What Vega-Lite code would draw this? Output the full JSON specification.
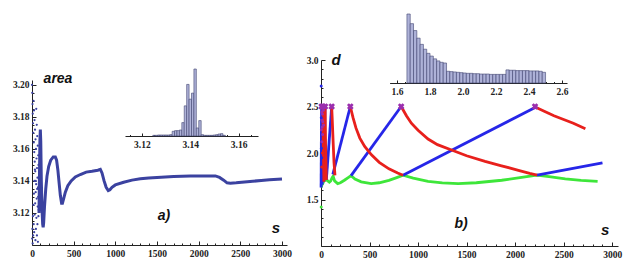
{
  "$schema": "https://vega.github.io/schema/vega-lite/v6.json",
  "width": 631,
  "height": 277,
  "autosize": "none",
  "padding": 0,
  "background": "white",
  "config": {
    "view": {"stroke": null},
    "axis": {"grid": false, "title": null, "domainColor": "#222", "tickColor": "#222", "labelFont": "Liberation Serif", "labelFontWeight": "bold", "labelFontSize": 9.5, "labelColor": "#222", "labelOverlap": false, "labelBound": false, "labelFlush": false, "domainWidth": 1, "tickWidth": 1}
  },
  "datasets": {
    "areaDots": [
      {"s":0,"a":3.200},{"s":2,"a":3.104},{"s":3,"a":3.195},{"s":5,"a":3.110},{"s":6,"a":3.188},{"s":8,"a":3.101},{"s":9,"a":3.182},{"s":11,"a":3.118},{"s":12,"a":3.176},{"s":14,"a":3.106},{"s":15,"a":3.170},{"s":17,"a":3.125},{"s":18,"a":3.190},{"s":20,"a":3.113},{"s":21,"a":3.164},{"s":23,"a":3.132},{"s":24,"a":3.184},{"s":26,"a":3.108},{"s":27,"a":3.158},{"s":29,"a":3.140},{"s":30,"a":3.178},{"s":32,"a":3.119},{"s":33,"a":3.152},{"s":35,"a":3.147},{"s":36,"a":3.172},{"s":38,"a":3.126},{"s":39,"a":3.146},{"s":41,"a":3.103},{"s":42,"a":3.166},{"s":44,"a":3.133},{"s":45,"a":3.140},{"s":47,"a":3.110},{"s":48,"a":3.160},{"s":50,"a":3.138},{"s":51,"a":3.185},{"s":53,"a":3.117},{"s":54,"a":3.154},{"s":56,"a":3.129},{"s":57,"a":3.175},{"s":59,"a":3.106},{"s":60,"a":3.148},{"s":62,"a":3.135},{"s":63,"a":3.168},{"s":65,"a":3.113},{"s":66,"a":3.142},{"s":68,"a":3.124},{"s":69,"a":3.162},{"s":71,"a":3.102},{"s":72,"a":3.136},{"s":74,"a":3.130},{"s":75,"a":3.156},{"s":77,"a":3.118},{"s":78,"a":3.150},{"s":80,"a":3.122}
    ],
    "areaLine": [
      {"s":84,"a":3.120},{"s":90,"a":3.145},{"s":95,"a":3.165},{"s":100,"a":3.172},{"s":105,"a":3.165},{"s":112,"a":3.140},{"s":120,"a":3.122},{"s":128,"a":3.113},{"s":134,"a":3.111},{"s":140,"a":3.114},{"s":150,"a":3.124},{"s":165,"a":3.135},{"s":180,"a":3.143},{"s":200,"a":3.149},{"s":225,"a":3.153},{"s":255,"a":3.155},{"s":280,"a":3.155},{"s":295,"a":3.153},{"s":310,"a":3.147},{"s":325,"a":3.139},{"s":340,"a":3.131},{"s":355,"a":3.126},{"s":365,"a":3.126},{"s":380,"a":3.129},{"s":400,"a":3.133},{"s":430,"a":3.137},{"s":470,"a":3.140},{"s":520,"a":3.1425},{"s":580,"a":3.144},{"s":650,"a":3.1455},{"s":720,"a":3.146},{"s":790,"a":3.1467},{"s":820,"a":3.1472},{"s":840,"a":3.145},{"s":865,"a":3.140},{"s":890,"a":3.136},{"s":915,"a":3.134},{"s":935,"a":3.1345},{"s":960,"a":3.136},{"s":1000,"a":3.1375},{"s":1100,"a":3.1392},{"s":1200,"a":3.1405},{"s":1300,"a":3.1413},{"s":1400,"a":3.1418},{"s":1500,"a":3.1422},{"s":1600,"a":3.1425},{"s":1700,"a":3.1427},{"s":1800,"a":3.1429},{"s":1900,"a":3.1430},{"s":2000,"a":3.1431},{"s":2100,"a":3.1431},{"s":2200,"a":3.1431},{"s":2250,"a":3.1422},{"s":2300,"a":3.1405},{"s":2340,"a":3.1388},{"s":2380,"a":3.1386},{"s":2450,"a":3.1388},{"s":2550,"a":3.1393},{"s":2650,"a":3.1398},{"s":2750,"a":3.1403},{"s":2850,"a":3.1407},{"s":2950,"a":3.1410},{"s":3000,"a":3.1412}
    ],
    "histA": [
      {"lo":3.1245,"hi":3.1255,"n":1},{"lo":3.1255,"hi":3.1265,"n":1},{"lo":3.1265,"hi":3.1275,"n":1.5},{"lo":3.1275,"hi":3.1285,"n":1.5},{"lo":3.1285,"hi":3.1295,"n":1.5},{"lo":3.1295,"hi":3.1305,"n":1.5},{"lo":3.1305,"hi":3.1315,"n":1.5},{"lo":3.1315,"hi":3.1325,"n":2},{"lo":3.1325,"hi":3.1335,"n":7},{"lo":3.1335,"hi":3.1345,"n":8},{"lo":3.1345,"hi":3.1355,"n":8},{"lo":3.1355,"hi":3.1365,"n":9},{"lo":3.1365,"hi":3.1375,"n":20},{"lo":3.1375,"hi":3.1385,"n":45},{"lo":3.1385,"hi":3.1395,"n":77},{"lo":3.1395,"hi":3.1405,"n":55},{"lo":3.1405,"hi":3.1415,"n":64},{"lo":3.1415,"hi":3.1425,"n":100},{"lo":3.1425,"hi":3.1435,"n":12},{"lo":3.1435,"hi":3.1445,"n":23},{"lo":3.1445,"hi":3.1455,"n":2},{"lo":3.1455,"hi":3.1465,"n":1},{"lo":3.1465,"hi":3.1475,"n":1},{"lo":3.1475,"hi":3.1485,"n":1},{"lo":3.1485,"hi":3.1495,"n":1},{"lo":3.1495,"hi":3.1505,"n":1.5},{"lo":3.1505,"hi":3.1515,"n":2},{"lo":3.1515,"hi":3.1525,"n":3},{"lo":3.1525,"hi":3.1535,"n":3.5},{"lo":3.1535,"hi":3.1545,"n":1}
    ],
    "histD": [
      {"lo":1.66,"hi":1.68,"n":100},{"lo":1.68,"hi":1.70,"n":86},{"lo":1.70,"hi":1.72,"n":76},{"lo":1.72,"hi":1.74,"n":65},{"lo":1.74,"hi":1.76,"n":56},{"lo":1.76,"hi":1.78,"n":49},{"lo":1.78,"hi":1.80,"n":43},{"lo":1.80,"hi":1.82,"n":39},{"lo":1.82,"hi":1.84,"n":35},{"lo":1.84,"hi":1.86,"n":32},{"lo":1.86,"hi":1.88,"n":30},{"lo":1.88,"hi":1.90,"n":29},
      {"lo":1.90,"hi":1.92,"n":17},{"lo":1.92,"hi":1.94,"n":16.5},{"lo":1.94,"hi":1.96,"n":16},{"lo":1.96,"hi":1.98,"n":15.5},{"lo":1.98,"hi":2.00,"n":15},{"lo":2.00,"hi":2.02,"n":14.5},{"lo":2.02,"hi":2.04,"n":14},{"lo":2.04,"hi":2.06,"n":14},{"lo":2.06,"hi":2.08,"n":13.5},{"lo":2.08,"hi":2.10,"n":13.5},{"lo":2.10,"hi":2.12,"n":13},{"lo":2.12,"hi":2.14,"n":13},{"lo":2.14,"hi":2.16,"n":13},{"lo":2.16,"hi":2.18,"n":12.5},{"lo":2.18,"hi":2.20,"n":12.5},{"lo":2.20,"hi":2.22,"n":12.5},{"lo":2.22,"hi":2.24,"n":12.5},{"lo":2.24,"hi":2.26,"n":12.5},
      {"lo":2.26,"hi":2.28,"n":19},{"lo":2.28,"hi":2.30,"n":18.5},{"lo":2.30,"hi":2.32,"n":18.5},{"lo":2.32,"hi":2.34,"n":18},{"lo":2.34,"hi":2.36,"n":18},{"lo":2.36,"hi":2.38,"n":18},{"lo":2.38,"hi":2.40,"n":18},{"lo":2.40,"hi":2.42,"n":17.5},{"lo":2.42,"hi":2.44,"n":17.5},{"lo":2.44,"hi":2.46,"n":17.5},{"lo":2.46,"hi":2.48,"n":17},{"lo":2.48,"hi":2.50,"n":15.5}
    ],
    "dLines": [
      {"s":3,"d":1.63,"c":"green","g":"g"},{"s":10,"d":1.66,"c":"green","g":"g"},{"s":17,"d":1.67,"c":"green","g":"g"},{"s":30,"d":1.70,"c":"green","g":"g"},{"s":52,"d":1.714,"c":"green","g":"g"},{"s":70,"d":1.70,"c":"green","g":"g"},{"s":86,"d":1.686,"c":"green","g":"g"},{"s":100,"d":1.70,"c":"green","g":"g"},{"s":115,"d":1.735,"c":"green","g":"g"},{"s":125,"d":1.75,"c":"green","g":"g"},{"s":140,"d":1.70,"c":"green","g":"g"},{"s":172,"d":1.671,"c":"green","g":"g"},{"s":200,"d":1.68,"c":"green","g":"g"},{"s":241,"d":1.707,"c":"green","g":"g"},{"s":280,"d":1.735,"c":"green","g":"g"},{"s":310,"d":1.757,"c":"green","g":"g"},{"s":350,"d":1.72,"c":"green","g":"g"},{"s":414,"d":1.69,"c":"green","g":"g"},{"s":517,"d":1.671,"c":"green","g":"g"},{"s":600,"d":1.68,"c":"green","g":"g"},{"s":700,"d":1.705,"c":"green","g":"g"},{"s":780,"d":1.735,"c":"green","g":"g"},{"s":845,"d":1.761,"c":"green","g":"g"},{"s":950,"d":1.73,"c":"green","g":"g"},{"s":1103,"d":1.695,"c":"green","g":"g"},{"s":1250,"d":1.678,"c":"green","g":"g"},{"s":1414,"d":1.671,"c":"green","g":"g"},{"s":1600,"d":1.68,"c":"green","g":"g"},{"s":1862,"d":1.707,"c":"green","g":"g"},{"s":2050,"d":1.735,"c":"green","g":"g"},{"s":2224,"d":1.761,"c":"green","g":"g"},{"s":2350,"d":1.745,"c":"green","g":"g"},{"s":2517,"d":1.721,"c":"green","g":"g"},{"s":2680,"d":1.705,"c":"green","g":"g"},{"s":2850,"d":1.694,"c":"green","g":"g"},
      {"s":1,"d":1.63,"c":"blue","g":"b1"},{"s":6,"d":2.5,"c":"blue","g":"b1"},
      {"s":12,"d":1.66,"c":"blue","g":"b2"},{"s":20,"d":2.5,"c":"blue","g":"b2"},
      {"s":30,"d":1.69,"c":"blue","g":"b4"},{"s":42,"d":2.5,"c":"blue","g":"b4"},
      {"s":55,"d":1.71,"c":"blue","g":"b5"},{"s":110,"d":2.5,"c":"blue","g":"b5"},
      {"s":122,"d":1.77,"c":"blue","g":"b6"},{"s":302,"d":2.5,"c":"blue","g":"b6"},
      {"s":310,"d":1.757,"c":"blue","g":"b7"},{"s":826,"d":2.5,"c":"blue","g":"b7"},
      {"s":845,"d":1.761,"c":"blue","g":"b8"},{"s":2226,"d":2.5,"c":"blue","g":"b8"},
      {"s":2226,"d":1.761,"c":"blue","g":"b9"},{"s":2900,"d":1.895,"c":"blue","g":"b9"},
      {"s":20,"d":2.5,"c":"red","g":"r2"},{"s":24,"d":2.05,"c":"red","g":"r2"},{"s":30,"d":1.69,"c":"red","g":"r2"},
      {"s":42,"d":2.5,"c":"red","g":"r4"},{"s":47,"d":2.1,"c":"red","g":"r4"},{"s":55,"d":1.71,"c":"red","g":"r4"},
      {"s":110,"d":2.5,"c":"red","g":"r5"},{"s":115,"d":2.38,"c":"red","g":"r5"},{"s":120,"d":2.25,"c":"red","g":"r5"},{"s":127,"d":2.07,"c":"red","g":"r5"},{"s":134,"d":1.9,"c":"red","g":"r5"},{"s":144,"d":1.76,"c":"red","g":"r5"},
      {"s":302,"d":2.5,"c":"red","g":"r6"},{"s":330,"d":2.38,"c":"red","g":"r6"},{"s":360,"d":2.27,"c":"red","g":"r6"},{"s":400,"d":2.16,"c":"red","g":"r6"},{"s":450,"d":2.07,"c":"red","g":"r6"},{"s":520,"d":1.98,"c":"red","g":"r6"},{"s":600,"d":1.9,"c":"red","g":"r6"},{"s":700,"d":1.83,"c":"red","g":"r6"},{"s":790,"d":1.785,"c":"red","g":"r6"},{"s":845,"d":1.761,"c":"red","g":"r6"},
      {"s":826,"d":2.5,"c":"red","g":"r7"},{"s":880,"d":2.40,"c":"red","g":"r7"},{"s":931,"d":2.32,"c":"red","g":"r7"},{"s":1000,"d":2.245,"c":"red","g":"r7"},{"s":1103,"d":2.15,"c":"red","g":"r7"},{"s":1200,"d":2.09,"c":"red","g":"r7"},{"s":1345,"d":2.032,"c":"red","g":"r7"},{"s":1500,"d":1.97,"c":"red","g":"r7"},{"s":1690,"d":1.91,"c":"red","g":"r7"},{"s":1850,"d":1.865,"c":"red","g":"r7"},{"s":2034,"d":1.814,"c":"red","g":"r7"},{"s":2150,"d":1.78,"c":"red","g":"r7"},{"s":2226,"d":1.761,"c":"red","g":"r7"},
      {"s":2195,"d":2.5,"c":"red","g":"r8"},{"s":2300,"d":2.45,"c":"red","g":"r8"},{"s":2400,"d":2.40,"c":"red","g":"r8"},{"s":2500,"d":2.36,"c":"red","g":"r8"},{"s":2600,"d":2.32,"c":"red","g":"r8"},{"s":2724,"d":2.26,"c":"red","g":"r8"}
    ],
    "dPeaks": [
      {"s":6,"d":2.5},{"s":20,"d":2.5},{"s":42,"d":2.5},{"s":110,"d":2.5},{"s":302,"d":2.5},{"s":826,"d":2.5},{"s":2205,"d":2.5}
    ],
    "dDots": [
      {"s":2,"d":2.72,"c":"blue"},{"s":2,"d":1.42,"c":"green"},
      {"s":8,"d":2.44,"c":"purple"},{"s":10,"d":2.36,"c":"purple"},{"s":12,"d":2.28,"c":"purple"},{"s":14,"d":2.42,"c":"purple"},{"s":16,"d":2.2,"c":"purple"},{"s":18,"d":2.34,"c":"purple"},{"s":23,"d":2.46,"c":"purple"},{"s":26,"d":2.3,"c":"purple"},{"s":9,"d":2.12,"c":"purple"},{"s":4,"d":2.25,"c":"purple"},{"s":5,"d":2.05,"c":"blue"},{"s":3,"d":2.38,"c":"blue"},{"s":7,"d":1.95,"c":"blue"},{"s":15,"d":2.0,"c":"red"},{"s":8,"d":1.85,"c":"red"}
    ]
  },
  "layer": [
    {
      "layer": [
        {
          "data": {"name": "areaLine"},
          "mark": {"type": "line", "color": "#3b42a0", "strokeWidth": 3},
          "encoding": {
            "x": {"field": "s", "type": "quantitative", "scale": {"domain": [0, 3060], "range": [32, 287], "nice": false, "zero": false},
              "axis": {"orient": "bottom", "offset": -32, "values": [0,500,1000,1500,2000,2500,3000], "format": "d", "tickSize": -4, "labelPadding": 7}},
            "y": {"field": "a", "type": "quantitative", "scale": {"domain": [3.10, 3.203], "range": [245, 80], "nice": false, "zero": false},
              "axis": {"orient": "left", "offset": -32, "values": [3.12,3.14,3.16,3.18,3.2], "format": ".2f", "tickSize": -4, "labelPadding": 7}}
          }
        },
        {
          "data": {"name": "areaDots"},
          "mark": {"type": "circle", "color": "#3b42a0", "size": 5, "opacity": 1},
          "encoding": {
            "x": {"field": "s", "type": "quantitative", "scale": {"domain": [0, 3060], "range": [32, 287], "nice": false, "zero": false}},
            "y": {"field": "a", "type": "quantitative", "scale": {"domain": [3.10, 3.203], "range": [245, 80], "nice": false, "zero": false}}
          }
        },
        {
          "data": {"values": [{"t": "area"}]},
          "mark": {"type": "text", "font": "Liberation Sans", "fontWeight": "bold", "fontStyle": "italic", "fontSize": 14, "color": "#111", "align": "center", "baseline": "middle"},
          "encoding": {"text": {"field": "t"}, "x": {"datum": 312, "type": "quantitative", "scale": {"domain": [0, 3060], "range": [32, 287], "nice": false, "zero": false}}, "y": {"datum": 3.2035, "type": "quantitative", "scale": {"domain": [3.10, 3.203], "range": [245, 80], "nice": false, "zero": false}}}
        },
        {
          "data": {"values": [{"t": "a)"}]},
          "mark": {"type": "text", "font": "Liberation Sans", "fontWeight": "bold", "fontStyle": "italic", "fontSize": 14, "color": "#111", "align": "center", "baseline": "middle"},
          "encoding": {"text": {"field": "t"}, "x": {"datum": 1584, "type": "quantitative", "scale": {"domain": [0, 3060], "range": [32, 287], "nice": false, "zero": false}}, "y": {"datum": 3.1181, "type": "quantitative", "scale": {"domain": [3.10, 3.203], "range": [245, 80], "nice": false, "zero": false}}}
        },
        {
          "data": {"values": [{"t": "s"}]},
          "mark": {"type": "text", "font": "Liberation Sans", "fontWeight": "bold", "fontStyle": "italic", "fontSize": 15, "color": "#111", "align": "center", "baseline": "middle"},
          "encoding": {"text": {"field": "t"}, "x": {"datum": 2928, "type": "quantitative", "scale": {"domain": [0, 3060], "range": [32, 287], "nice": false, "zero": false}}, "y": {"datum": 3.1106, "type": "quantitative", "scale": {"domain": [3.10, 3.203], "range": [245, 80], "nice": false, "zero": false}}}
        }
      ]
    },
    {
      "data": {"name": "areaLine"},
      "mark": {"type": "point", "opacity": 0},
      "encoding": {
        "x": {"field": "s", "type": "quantitative", "scale": {"domain": [0, 3060], "range": [32, 287], "nice": false, "zero": false},
          "axis": {"orient": "bottom", "offset": -32, "domain": false, "labels": false, "tickSize": -2, "values": [100,200,300,400,600,700,800,900,1100,1200,1300,1400,1600,1700,1800,1900,2100,2200,2300,2400,2600,2700,2800,2900]}}
      }
    },
    {
      "data": {"name": "areaLine"},
      "mark": {"type": "point", "opacity": 0},
      "encoding": {
        "y": {"field": "a", "type": "quantitative", "scale": {"domain": [3.10, 3.203], "range": [245, 80], "nice": false, "zero": false},
          "axis": {"orient": "left", "offset": -32, "domain": false, "labels": false, "tickSize": -2, "values": [3.105,3.11,3.115,3.125,3.13,3.135,3.145,3.15,3.155,3.165,3.17,3.175,3.185,3.19,3.195]}}
      }
    },
    {
      "data": {"name": "histA"},
      "mark": {"type": "rect", "fill": "#aeb2d8", "stroke": "#3f4370", "strokeWidth": 0.6},
      "encoding": {
        "x": {"field": "lo", "type": "quantitative", "scale": {"domain": [3.113, 3.168], "range": [125, 258], "nice": false, "zero": false},
          "axis": {"orient": "bottom", "offset": -141, "values": [3.12,3.14,3.16], "format": ".2f", "tickSize": -3, "labelPadding": 6}},
        "x2": {"field": "hi"},
        "y": {"field": "n", "type": "quantitative", "scale": {"domain": [0, 100], "range": [136, 69], "nice": false, "zero": false}, "axis": null},
        "y2": {"datum": 0}
      }
    },
    {
      "data": {"name": "histA"},
      "mark": {"type": "point", "opacity": 0},
      "encoding": {
        "x": {"field": "lo", "type": "quantitative", "scale": {"domain": [3.113, 3.168], "range": [125, 258], "nice": false, "zero": false},
          "axis": {"orient": "bottom", "offset": -141, "domain": false, "labels": false, "tickSize": -1.5, "values": [3.115,3.125,3.13,3.135,3.145,3.15,3.155,3.165]}}
      }
    },
    {
      "layer": [
        {
          "data": {"name": "dLines"},
          "mark": {"type": "line", "strokeWidth": 2.8},
          "encoding": {
            "x": {"field": "s", "type": "quantitative", "scale": {"domain": [0, 3060], "range": [321, 618], "nice": false, "zero": false},
              "axis": {"orient": "bottom", "offset": -31, "values": [0,500,1000,1500,2000,2500,3000], "format": "d", "tickSize": -4, "labelPadding": 7}},
            "y": {"field": "d", "type": "quantitative", "scale": {"domain": [1, 3], "range": [246, 60], "nice": false, "zero": false},
              "axis": {"orient": "left", "offset": -321, "values": [1.5,2.0,2.5,3.0], "format": ".1f", "tickSize": -4, "labelPadding": 7}},
            "color": {"field": "c", "type": "nominal", "scale": {"domain": ["blue", "red", "green", "purple"], "range": ["#2626e8", "#e8201c", "#3ee63a", "#9b2fae"]}, "legend": null},
            "detail": {"field": "g"}
          }
        },
        {
          "data": {"name": "dDots"},
          "mark": {"type": "circle", "size": 9, "opacity": 1},
          "encoding": {
            "x": {"field": "s", "type": "quantitative", "scale": {"domain": [0, 3060], "range": [321, 618], "nice": false, "zero": false}},
            "y": {"field": "d", "type": "quantitative", "scale": {"domain": [1, 3], "range": [246, 60], "nice": false, "zero": false}},
            "color": {"field": "c", "type": "nominal", "scale": {"domain": ["blue", "red", "green", "purple"], "range": ["#2626e8", "#e8201c", "#3ee63a", "#9b2fae"]}, "legend": null}
          }
        },
        {
          "data": {"name": "dPeaks"},
          "mark": {"type": "point", "shape": "cross", "angle": 45, "filled": true, "size": 45, "color": "#9b2fae", "opacity": 1},
          "encoding": {
            "x": {"field": "s", "type": "quantitative", "scale": {"domain": [0, 3060], "range": [321, 618], "nice": false, "zero": false}},
            "y": {"field": "d", "type": "quantitative", "scale": {"domain": [1, 3], "range": [246, 60], "nice": false, "zero": false}}
          }
        },
        {
          "data": {"values": [{"t": "d"}]},
          "mark": {"type": "text", "font": "Liberation Sans", "fontWeight": "bold", "fontStyle": "italic", "fontSize": 15, "color": "#111", "align": "center", "baseline": "middle"},
          "encoding": {"text": {"field": "t"}, "x": {"datum": 155, "type": "quantitative", "scale": {"domain": [0, 3060], "range": [321, 618], "nice": false, "zero": false}}, "y": {"datum": 3.0, "type": "quantitative", "scale": {"domain": [1, 3], "range": [246, 60], "nice": false, "zero": false}}}
        },
        {
          "data": {"values": [{"t": "b)"}]},
          "mark": {"type": "text", "font": "Liberation Sans", "fontWeight": "bold", "fontStyle": "italic", "fontSize": 14, "color": "#111", "align": "center", "baseline": "middle"},
          "encoding": {"text": {"field": "t"}, "x": {"datum": 1443, "type": "quantitative", "scale": {"domain": [0, 3060], "range": [321, 618], "nice": false, "zero": false}}, "y": {"datum": 1.237, "type": "quantitative", "scale": {"domain": [1, 3], "range": [246, 60], "nice": false, "zero": false}}}
        },
        {
          "data": {"values": [{"t": "s"}]},
          "mark": {"type": "text", "font": "Liberation Sans", "fontWeight": "bold", "fontStyle": "italic", "fontSize": 15, "color": "#111", "align": "center", "baseline": "middle"},
          "encoding": {"text": {"field": "t"}, "x": {"datum": 2928, "type": "quantitative", "scale": {"domain": [0, 3060], "range": [321, 618], "nice": false, "zero": false}}, "y": {"datum": 1.172, "type": "quantitative", "scale": {"domain": [1, 3], "range": [246, 60], "nice": false, "zero": false}}}
        }
      ]
    },
    {
      "data": {"name": "dLines"},
      "mark": {"type": "point", "opacity": 0},
      "encoding": {
        "x": {"field": "s", "type": "quantitative", "scale": {"domain": [0, 3060], "range": [321, 618], "nice": false, "zero": false},
          "axis": {"orient": "bottom", "offset": -31, "domain": false, "labels": false, "tickSize": -2, "values": [100,200,300,400,600,700,800,900,1100,1200,1300,1400,1600,1700,1800,1900,2100,2200,2300,2400,2600,2700,2800,2900]}}
      }
    },
    {
      "data": {"name": "dLines"},
      "mark": {"type": "point", "opacity": 0},
      "encoding": {
        "y": {"field": "d", "type": "quantitative", "scale": {"domain": [1, 3], "range": [246, 60], "nice": false, "zero": false},
          "axis": {"orient": "left", "offset": -321, "domain": false, "labels": false, "tickSize": -2, "values": [1.1,1.2,1.3,1.4,1.6,1.7,1.8,1.9,2.1,2.2,2.3,2.4,2.6,2.7,2.8,2.9]}}
      }
    },
    {
      "data": {"name": "histD"},
      "mark": {"type": "rect", "fill": "#aeb2d8", "stroke": "#3f4370", "strokeWidth": 0.6},
      "encoding": {
        "x": {"field": "lo", "type": "quantitative", "scale": {"domain": [1.555, 2.63], "range": [389.6, 567], "nice": false, "zero": false},
          "axis": {"orient": "bottom", "offset": -194, "values": [1.6,1.8,2.0,2.2,2.4,2.6], "format": ".1f", "tickSize": -3, "labelPadding": 6}},
        "x2": {"field": "hi"},
        "y": {"field": "n", "type": "quantitative", "scale": {"domain": [0, 100], "range": [83, 14], "nice": false, "zero": false}, "axis": null},
        "y2": {"datum": 0}
      }
    },
    {
      "data": {"name": "histD"},
      "mark": {"type": "point", "opacity": 0},
      "encoding": {
        "x": {"field": "lo", "type": "quantitative", "scale": {"domain": [1.555, 2.63], "range": [389.6, 567], "nice": false, "zero": false},
          "axis": {"orient": "bottom", "offset": -194, "domain": false, "labels": false, "tickSize": -1.5, "values": [1.65,1.7,1.75,1.85,1.9,1.95,2.05,2.1,2.15,2.25,2.3,2.35,2.45,2.5,2.55]}}
      }
    }
  ],
  "resolve": {"scale": {"x": "independent", "y": "independent"}, "axis": {"x": "independent", "y": "independent"}}
}
